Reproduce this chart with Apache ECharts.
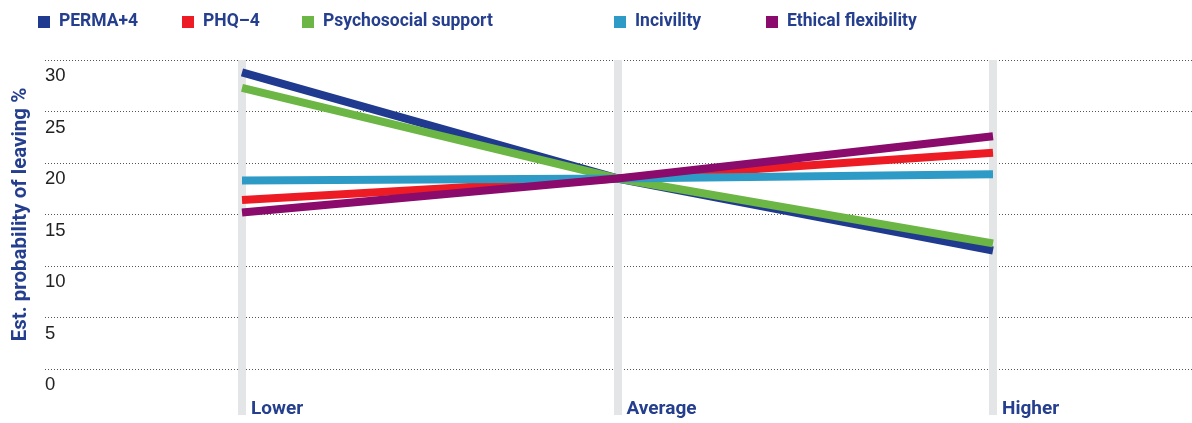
<!DOCTYPE html>
<html>
<head>
<meta charset="utf-8">
<script src="https://cdn.jsdelivr.net/npm/echarts@6/dist/echarts.min.js"></script>
<style>
  html, body { margin: 0; padding: 0; background: #ffffff; }
  #chart { width: 1192px; height: 423px; }
</style>
</head>
<body>
<div id="chart"></div>
<script>
// Levels of each predictor
const categories = ['Lower', 'Average', 'Higher'];

// Estimated probability of leaving (%) at each level
const perma4      = [28.8, 18.5, 11.5];
const phq4        = [16.4, 18.5, 21.0];
const psychSocial = [27.3, 18.5, 12.2];
const incivility  = [18.3, 18.5, 18.9];
const ethicalFlex = [15.2, 18.5, 22.6];

const seriesNames = ['PERMA+4', 'PHQ–4', 'Psychosocial support', 'Incivility', 'Ethical flexibility'];
const seriesData  = [perma4, phq4, psychSocial, incivility, ethicalFlex];
const seriesColors = ['#1f3a8e', '#ed1c24', '#6bb644', '#2e9bc6', '#8a0b6b'];

// Value axis ticks
const yMin = 0, yMax = 30, yStep = 5;

const labelBlue = '#253f8e';
const boldFont = 'Roboto';

// legend entries sit at their own horizontal offsets
const legendLeft = [38, 182, 302, 614, 766];

const chart = echarts.init(document.getElementById('chart'), null, { renderer: 'canvas' });

// the plotting grid's value axis runs a little below zero so the level bands reach the labels
const pxPerUnit = (423 - 60 - 54) / (yMax - yMin);
const bandMin = -(415 - 369) / pxPerUnit;

const option = {
  animation: false,
  backgroundColor: '#ffffff',
  legend: seriesNames.map((name, i) => ({
    data: [name],
    left: legendLeft[i],
    top: 13,
    padding: 0,
    icon: 'rect',
    itemWidth: 12,
    itemHeight: 12,
    selectedMode: false,
    textStyle: {
      color: labelBlue,
      fontFamily: boldFont,
      fontWeight: 'bold',
      fontSize: 17.5,
      padding: [0, 0, 0, 4]
    }
  })),
  grid: [
    { left: 45, right: 0, top: 60, bottom: 54 },
    { left: 242, right: 199, top: 60, bottom: 8 }
  ],
  xAxis: [
    { type: 'category', gridIndex: 0, show: false, data: categories },
    {
      type: 'category',
      gridIndex: 1,
      data: categories,
      boundaryGap: false,
      position: 'bottom',
      offset: -15,
      axisLine: { show: false },
      axisTick: { show: false },
      axisLabel: {
        margin: 0,
        align: 'left',
        verticalAlign: 'top',
        padding: [0, 0, 0, 9],
        color: labelBlue,
        fontFamily: boldFont,
        fontWeight: 'bold',
        fontSize: 19,
        lineHeight: 19
      },
      splitLine: {
        show: true,
        lineStyle: { color: '#e4e5e7', width: 8, type: 'solid' }
      }
    }
  ],
  yAxis: [
    {
      type: 'value',
      gridIndex: 0,
      min: yMin,
      max: yMax,
      interval: yStep,
      name: 'Est. probability of leaving %',
      nameLocation: 'middle',
      nameGap: 14,
      nameRotate: 90,
      nameTextStyle: {
        color: labelBlue,
        fontFamily: boldFont,
        fontWeight: 'bold',
        fontSize: 20.5
      },
      axisLine: { show: false },
      axisTick: { show: false },
      axisLabel: {
        inside: true,
        margin: 0,
        align: 'left',
        verticalAlign: 'top',
        padding: [7, 0, 0, 0],
        color: '#222222',
        fontFamily: 'Liberation Sans',
        fontSize: 18.5,
        lineHeight: 18
      },
      splitLine: {
        show: true,
        lineStyle: { color: '#555555', width: 1, type: [1, 2] }
      }
    },
    {
      type: 'value',
      gridIndex: 1,
      min: bandMin,
      max: yMax,
      show: false
    }
  ],
  series: seriesNames.map((name, i) => ({
    name: name,
    type: 'line',
    xAxisIndex: 1,
    yAxisIndex: 1,
    data: seriesData[i],
    symbol: 'none',
    color: seriesColors[i],
    lineStyle: { width: 8, color: seriesColors[i], cap: 'butt' },
    emphasis: { disabled: true },
    silent: true
  }))
};

chart.setOption(option);
</script>
</body>
</html>
